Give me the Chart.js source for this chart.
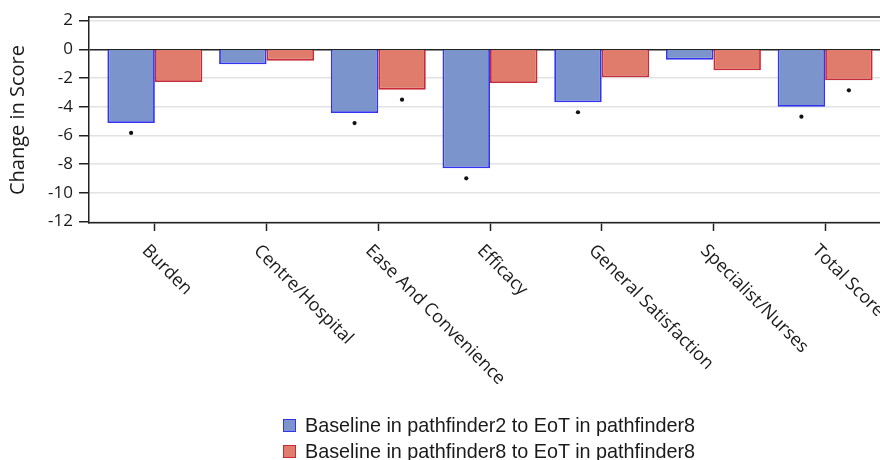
<!DOCTYPE html>
<html>
<head>
<meta charset="utf-8">
<script src="https://cdn.jsdelivr.net/npm/chart.js@4"></script>
<style>
  body { margin: 0; overflow: hidden; background: #fff; }
  #wrap { position: relative; width: 900px; height: 460px; }
  #legend { position: absolute; left: 283px; top: 412px; font: 19.8px "Liberation Sans", Arial, sans-serif; color: #1a1a1a; }
  #legend div { height: 26px; line-height: 26px; white-space: nowrap; }
  #legend span { display: inline-block; width: 11px; height: 11px; margin-right: 9px; vertical-align: 0px; }
</style>
</head>
<body>
<div id="wrap">
  <canvas id="chart"></canvas>
  <div id="legend"></div>
</div>
<script>
// categories and values
const categories = ["Burden", "Centre/Hospital", "Ease And Convenience", "Efficacy", "General Satisfaction", "Specialist/Nurses", "Total Score"];
const seriesNames = ["Baseline in pathfinder2 to EoT in pathfinder8", "Baseline in pathfinder8 to EoT in pathfinder8"];
const pf2Values = [-5.13, -1.04, -4.44, -8.29, -3.69, -0.72, -4.00];
const pf8Values = [-2.28, -0.79, -2.81, -2.35, -1.95, -1.46, -2.16];
// significance markers (dot under the bar)
const pf2Signif = [true, false, true, true, true, false, true];
const pf8Signif = [false, false, true, false, false, false, true];
const yTicks = [2, 0, -2, -4, -6, -8, -10, -12];

const fills = ["#7b95cc", "#e07c6c"];
const borders = ["#3333f0", "#c92a38"];

// legend below the chart, one row per series
let legend = document.getElementById("legend");
seriesNames.forEach((name, i) => {
    let row = document.createElement("div");
    row.innerHTML = '<span style="background:' + fills[i] + ';border:1.5px solid ' + borders[i] + '"></span>' + name;
    legend.appendChild(row);
});

// SAS style frame, inner gap on the category axis, rotated labels, dots
const sasPlugin = {
    id: "sas",
    afterLayout(chart) {
        let x = chart.scales.x;
        x._startPixel = x.left + 10;
        x._length = x.right - x.left - 20;
    },
    beforeDatasetsDraw(chart) {
        let ctx = chart.ctx, a = chart.chartArea;
        ctx.save();
        ctx.strokeStyle = "#222";
        ctx.lineWidth = 1.5;
        ctx.beginPath();
        ctx.moveTo(a.left, a.top);
        ctx.lineTo(a.right, a.top);
        ctx.stroke();
        ctx.restore();
    },
    afterDatasetsDraw(chart) {
        let ctx = chart.ctx;
        let flags = [pf2Signif, pf8Signif];
        ctx.save();
        ctx.fillStyle = "#111";
        chart.data.datasets.forEach((ds, i) => {
            chart.getDatasetMeta(i).data.forEach((el, j) => {
                if (!flags[i][j]) return;
                ctx.beginPath();
                ctx.arc(el.x, el.y + 10, 2.1, 0, Math.PI * 2);
                ctx.fill();
            });
        });
        ctx.restore();
    },
    afterDraw(chart) {
        let ctx = chart.ctx, x = chart.scales.x;
        ctx.save();
        ctx.font = '18px "Open Sans", sans-serif';
        ctx.fillStyle = "#1a1a1a";
        ctx.textAlign = "left";
        ctx.textBaseline = "middle";
        categories.forEach((c, i) => {
            ctx.save();
            ctx.translate(x.getPixelForTick(i) - 10, 248);
            ctx.rotate(Math.PI / 4);
            ctx.fillText(c, 0, 0);
            ctx.restore();
        });
        ctx.restore();
    }
};

new Chart(document.getElementById("chart"), {
    type: "bar",
    data: {
        labels: categories,
        datasets: [
            { label: seriesNames[0], data: pf2Values, backgroundColor: fills[0], borderColor: borders[0], borderWidth: 1.8 },
            { label: seriesNames[1], data: pf8Values, backgroundColor: fills[1], borderColor: borders[1], borderWidth: 1.8 }
        ]
    },
    options: {
        responsive: true,
        maintainAspectRatio: false,
        animation: false,
        layout: { padding: { left: 0, top: 17, right: 9, bottom: 229 } },
        datasets: { bar: { categoryPercentage: 0.85, barPercentage: 1 } },
        plugins: { legend: { display: false }, tooltip: { enabled: false } },
        scales: {
            x: {
                ticks: { display: false },
                grid: { offset: false, drawOnChartArea: false, tickLength: 8, tickColor: "#222", tickWidth: 1.5 },
                border: { color: "#222", width: 1.5 }
            },
            y: {
                min: -12.1,
                max: 2.25,
                afterFit(scale) { scale.width = 89; },
                afterBuildTicks(scale) { scale.ticks = yTicks.map(v => ({ value: v })); },
                ticks: { includeBounds: false, padding: 6, color: "#1a1a1a", font: { family: "Open Sans", size: 17 } },
                grid: {
                    tickLength: 10,
                    tickColor: "#222",
                    color: c => c.tick && c.tick.value === 0 ? "#222" : "#e2e2e2",
                    lineWidth: 1.5
                },
                border: { color: "#222", width: 1.5 },
                title: {
                    display: true,
                    text: "Change in Score",
                    color: "#1a1a1a",
                    font: { family: "Open Sans", size: 20 },
                    padding: { top: 6, bottom: 0 }
                }
            }
        }
    },
    plugins: [sasPlugin]
});
</script>
</body>
</html>
